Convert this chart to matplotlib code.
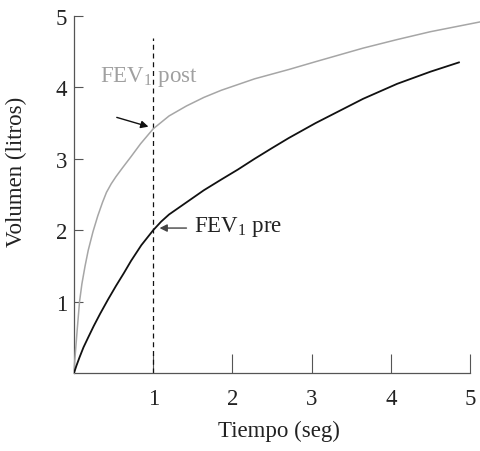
import matplotlib
matplotlib.use("Agg")
import matplotlib.pyplot as plt

# Data (time in seconds, volume in litres)
t_pre = [0, 0.03, 0.07, 0.12, 0.18, 0.25, 0.33, 0.43, 0.53, 0.63, 0.72, 0.85, 1.0, 1.1, 1.2,
         1.42, 1.64, 1.86, 2.07, 2.28, 2.5, 2.71, 3.05, 3.35, 3.65, 4.08, 4.5, 4.86]
v_pre = [0, 0.10, 0.22, 0.36, 0.50, 0.66, 0.83, 1.03, 1.22, 1.40, 1.57, 1.79, 2.0, 2.12, 2.22,
         2.39, 2.56, 2.71, 2.85, 3.00, 3.15, 3.29, 3.50, 3.67, 3.84, 4.05, 4.22, 4.35]

t_post = [0, 0.01, 0.02, 0.04, 0.07, 0.10, 0.14, 0.18, 0.24, 0.30, 0.36, 0.41, 0.47, 0.53,
          0.61, 0.72, 0.84, 1.0, 1.2, 1.42, 1.64, 1.86, 2.28, 2.71, 3.05, 3.65, 4.08, 4.5, 5.14]
v_post = [0, 0.18, 0.32, 0.60, 1.00, 1.25, 1.50, 1.72, 1.98, 2.20, 2.39, 2.53, 2.65, 2.75,
          2.87, 3.03, 3.21, 3.42, 3.60, 3.74, 3.86, 3.96, 4.12, 4.25, 4.36, 4.55, 4.67, 4.78, 4.92]

x_ticks = [1, 2, 3, 4, 5]
y_ticks = [1, 2, 3, 4, 5]
fev_time = 1.0
fev_line_top = 4.69

plt.rcParams['font.family'] = ['Liberation Serif', 'DejaVu Serif']
plt.rcParams['mathtext.fontset'] = 'custom'
plt.rcParams['mathtext.rm'] = 'Liberation Serif'

FS = 16.5
TXT = '#222222'
AX = '#555555'

fig = plt.figure(figsize=(4.81, 4.52), dpi=100)
ax = fig.add_axes([74/481, 1-374/452, (470-74)/481, (374-17)/452])

ax.plot(t_post, v_post, color='#a6a6a6', lw=1.1, clip_on=False, zorder=3,
        solid_joinstyle='round')
ax.plot(t_pre, v_pre, color='#111111', lw=1.3, zorder=3, solid_joinstyle='round')
ax.plot([fev_time, fev_time], [0, fev_line_top], color='#111111', lw=0.9,
        dashes=(4, 3), zorder=2)

ax.set_xlim(0, 5)
ax.set_ylim(0, 5)
ax.set_xticks(x_ticks)
ax.set_yticks(y_ticks)
ax.set_xticklabels([str(v) for v in x_ticks])
ax.set_yticklabels([str(v) for v in y_ticks])

for s in ['top', 'right']:
    ax.spines[s].set_visible(False)
for s in ['left', 'bottom']:
    ax.spines[s].set_color(AX)
    ax.spines[s].set_linewidth(0.9)

ax.tick_params(axis='x', direction='in', length=13.5, width=0.8, color=AX,
               labelsize=FS, labelcolor=TXT, pad=11)
ax.tick_params(axis='y', direction='in', length=6.5, width=0.8, color=AX,
               labelsize=FS, labelcolor=TXT, pad=5)

ax.set_xlabel('Tiempo (seg)', fontsize=FS, color=TXT)
ax.set_ylabel('Volumen (litros)', fontsize=FS, color=TXT)
ax.xaxis.set_label_coords(0.518, -0.13)
ax.yaxis.set_label_coords(-0.119, 0.566)

ax.text(0.33, 4.09, r'FEV$_\mathregular{1}$ post', fontsize=FS, color='#a0a0a0',
        ha='left', va='baseline')
ax.text(1.51, 1.99, r'FEV$_\mathregular{1}$ pre', fontsize=FS, color=TXT,
        ha='left', va='baseline')

ax.annotate('', xy=(0.94, 3.45), xytext=(0.54, 3.58),
            arrowprops=dict(arrowstyle='-|>', color='#111111', lw=1.0,
                            mutation_scale=11, shrinkA=0, shrinkB=0))
ax.annotate('', xy=(1.08, 2.03), xytext=(1.42, 2.03),
            arrowprops=dict(arrowstyle='-|>', color='#444444', lw=1.0,
                            mutation_scale=11, shrinkA=0, shrinkB=0))

fig.savefig('out.png', dpi=100)
